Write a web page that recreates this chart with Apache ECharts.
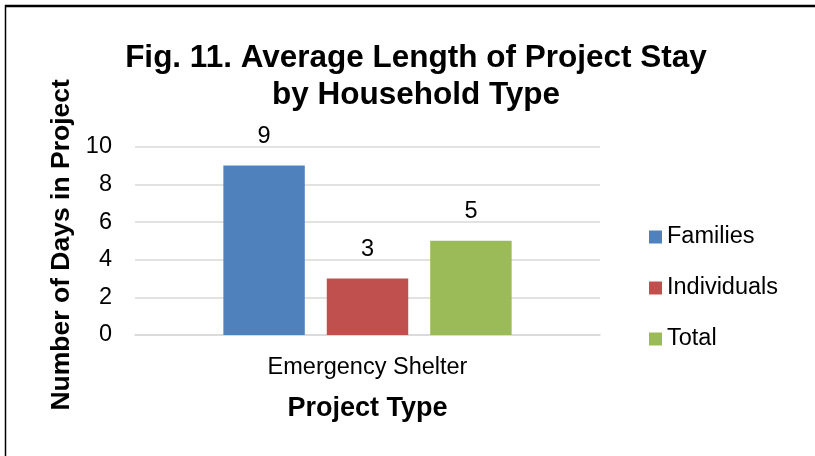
<!DOCTYPE html>
<html>
<head>
<meta charset="utf-8">
<script src="https://cdn.jsdelivr.net/npm/echarts@6/dist/echarts.min.js"></script>
<style>
html,body{margin:0;padding:0;background:#fff;}
#chart{width:815px;height:456px;}
</style>
</head>
<body>
<div id="chart"></div>
<script>
const categories = ['Emergency Shelter'];
const seriesNames = ['Families', 'Individuals', 'Total'];
const families = [9];
const individuals = [3];
const total = [5];
const yTicks = { min: 0, max: 10, interval: 2 };

const colors = ['#4F81BD', '#C0504D', '#9BBB59'];
const font = '"Liberation Sans", Arial, Helvetica, sans-serif';
const chart = echarts.init(document.getElementById('chart'), null, { renderer: 'canvas' });

const values = [families, individuals, total];
const series = seriesNames.map((name, i) => ({
  name: name,
  type: 'bar',
  data: values[i],
  barGap: '27%',
  barCategoryGap: '38%',
  itemStyle: { color: colors[i] },
  label: {
    show: true,
    position: 'top',
    distance: 17,
    color: '#000',
    fontFamily: font,
    fontSize: 23.5
  }
}));

chart.setOption({
  backgroundColor: '#fff',
  animation: false,
  color: colors,
  title: {
    text: 'Fig. 11. Average Length of Project Stay\nby Household Type',
    left: 411,
    top: 35,
    textAlign: 'center',
    textStyle: {
      fontFamily: font,
      fontSize: 31.5,
      fontWeight: 'bold',
      lineHeight: 37,
      color: '#000'
    }
  },
  legend: {
    orient: 'vertical',
    left: 649,
    top: 225,
    padding: 0,
    itemWidth: 13,
    itemHeight: 13,
    itemGap: 27,
    icon: 'rect',
    textStyle: { fontFamily: font, fontSize: 23.5, color: '#000', lineHeight: 23 },
    data: seriesNames
  },
  grid: { left: 135, right: 215, top: 146.7, bottom: 121, containLabel: false },
  xAxis: {
    type: 'category',
    data: categories,
    name: 'Project Type',
    nameLocation: 'middle',
    nameGap: 60,
    nameTextStyle: { fontFamily: font, fontSize: 27, fontWeight: 'bold', color: '#000' },
    axisLine: { lineStyle: { color: '#d9d9d9', width: 1.5 } },
    axisTick: { show: false },
    axisLabel: { fontFamily: font, fontSize: 23.5, color: '#000', margin: 21 }
  },
  yAxis: {
    type: 'value',
    min: yTicks.min,
    max: yTicks.max,
    interval: yTicks.interval,
    name: 'Number of Days in Project',
    nameLocation: 'middle',
    nameGap: 59,
    nameTextStyle: { fontFamily: font, fontSize: 26.5, fontWeight: 'bold', color: '#000', padding: [0, 8, 0, 0] },
    axisLine: { show: false },
    axisTick: { show: false },
    splitLine: { lineStyle: { color: '#d9d9d9', width: 1.5 } },
    axisLabel: { fontFamily: font, fontSize: 23.5, color: '#000', margin: 23 }
  },
  graphic: [
    { type: 'line', shape: { x1: 5, y1: 6, x2: 815, y2: 6 }, style: { stroke: '#000', lineWidth: 2.5 } },
    { type: 'line', shape: { x1: 5.5, y1: 5, x2: 5.5, y2: 456 }, style: { stroke: '#000', lineWidth: 1.5 } }
  ],
  series: series
});
</script>
</body>
</html>
